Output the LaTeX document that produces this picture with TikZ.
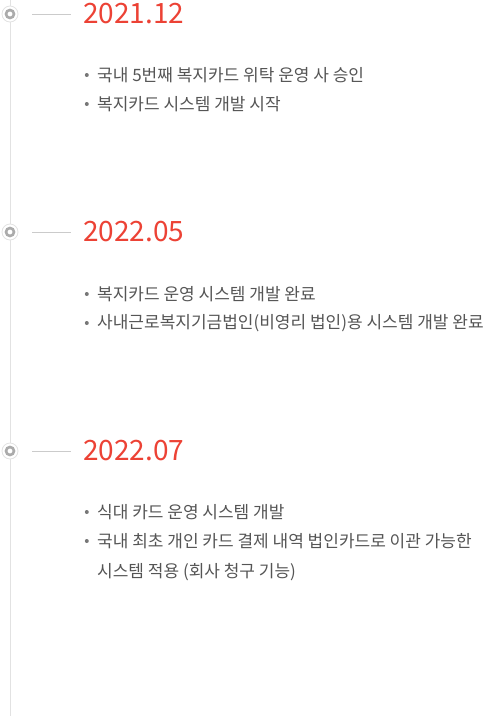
\documentclass[tikz,border=0pt]{standalone}
\usepackage{fontspec}
\setmainfont{Noto Sans CJK KR}
\usetikzlibrary{positioning}
\definecolor{cdate}{HTML}{EC4235}
\definecolor{ctext}{HTML}{555555}
\definecolor{crule}{HTML}{E2E2E2}
\definecolor{cdot}{HTML}{ABABAB}
\tikzset{
  rail/.style={draw=crule, line width=1pt},
  tick/.style={draw=crule!90!black, line width=0.8pt},
  ring/.style={circle, draw=crule, fill=white, line width=0.8pt, minimum size=16pt, inner sep=0pt},
  core/.style={circle, draw=cdot, fill=white, line width=2.6pt, minimum size=8pt, inner sep=0pt},
  date/.style={anchor=west, text=cdate, font=\fontsize{28}{30}\selectfont, inner sep=0pt},
  item/.style={anchor=west, text=ctext, font=\fontsize{17}{20}\selectfont, inner sep=0pt},
  dot/.style={circle, fill=ctext!80, minimum size=4pt, inner sep=0pt}
}
\begin{document}
\begin{tikzpicture}[x=1pt,y=-1pt]
\useasboundingbox (0,0) rectangle (485,716);
\coordinate (top) at (10,0);
\coordinate (bot) at (10,716);
\draw[rail] (top) -- (bot);
% 2021.12
\node[ring] (r1) at (10,14) {};
\node[core] at (r1) {};
\coordinate (h1a) at (32,14); \coordinate (h1b) at (71,14);
\draw[tick] (h1a) -- (h1b);
\node[date] (d1) at (83,14) {2021.12};
\node[item] (t1) at (97,75) {국내 5번째 복지카드 위탁 운영 사 승인};
\node[item] (t2) at (97,104) {복지카드 시스템 개발 시작};
\node[dot, left=8pt of t1] {};
\node[dot, left=8pt of t2] {};
% 2022.05
\node[ring] (r2) at (10,232) {};
\node[core] at (r2) {};
\coordinate (h2a) at (32,232); \coordinate (h2b) at (71,232);
\draw[tick] (h2a) -- (h2b);
\node[date] (d2) at (83,232) {2022.05};
\node[item] (t3) at (97,294) {복지카드 운영 시스템 개발 완료};
\node[item] (t4) at (97,323) {사내근로복지기금법인(비영리 법인)용 시스템 개발 완료};
\node[dot, left=8pt of t3] {};
\node[dot, left=8pt of t4] {};
% 2022.07
\node[ring] (r3) at (10,451) {};
\node[core] at (r3) {};
\coordinate (h3a) at (32,451); \coordinate (h3b) at (71,451);
\draw[tick] (h3a) -- (h3b);
\node[date] (d3) at (83,451) {2022.07};
\node[item] (t5) at (97,512) {식대 카드 운영 시스템 개발};
\node[item] (t6) at (97,541) {국내 최초 개인 카드 결제 내역 법인카드로 이관 가능한};
\node[item] (t7) at (97,572) {시스템 적용 (회사 청구 기능)};
\node[dot, left=8pt of t5] {};
\node[dot, left=8pt of t6] {};
\end{tikzpicture}
\end{document}
